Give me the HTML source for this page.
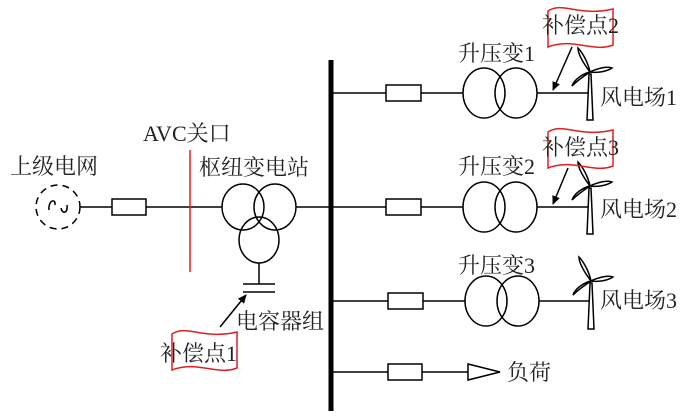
<!DOCTYPE html>
<html><head><meta charset="utf-8"><style>
html,body{margin:0;padding:0;background:#fff;}
text{font-family:"Liberation Serif","Noto Serif CJK SC","Noto Sans CJK SC",serif;font-size:22px;fill:#222;}
</style></head><body>
<svg width="700" height="415" viewBox="0 0 700 415" xmlns="http://www.w3.org/2000/svg">
<defs>
<marker id="ar" markerWidth="10" markerHeight="10" refX="8" refY="4" orient="auto" markerUnits="userSpaceOnUse"><path d="M0,0 L9,4 L0,8 Z" fill="#000"/></marker>
<g id="tur" stroke="#000" stroke-width="1.5" fill="#fff">
<path d="M-3,46 L-1,0 L1,0 L3,46 Z"/>
<path d="M0,-2 C-6,-10 -12,-20 -12,-26 C-8,-22 -2,-12 0,-2 Z"/>
<path d="M0,-2 C8,-6 18,-8 22,-6 C16,-2 6,-1 0,-2 Z"/>
<path d="M0,-2 C-6,2 -14,8 -18,12 C-16,6 -8,0 0,-2 Z"/>
</g>
<g id="wave"><path d="M0,4 C15,-6 30,10 65,2 L65,38 C45,46 25,30 0,40 Z" fill="none" stroke="#e02020" stroke-width="1.5"/></g>
</defs>
<g stroke="#000" stroke-width="1.5" fill="none">
<line x1="331" y1="60" x2="331" y2="411" stroke-width="5"/>
<circle cx="58" cy="207" r="22" stroke-dasharray="7,5"/>
<path d="M49,210 C48,200 56,198 55,205 M61,208 C62,214 68,214 67,205"/>
<line x1="80" y1="207" x2="112" y2="207"/>
<rect x="112" y="199" width="34" height="16"/>
<line x1="146" y1="207" x2="222" y2="207"/>
<ellipse cx="243" cy="207" rx="21" ry="23"/>
<ellipse cx="275" cy="207" rx="21" ry="23"/>
<ellipse cx="259" cy="240" rx="20" ry="23"/>
<line x1="296" y1="207" x2="331" y2="207"/>
<line x1="259" y1="263" x2="259" y2="284"/>
<line x1="243" y1="284" x2="275" y2="284"/>
<line x1="243" y1="292" x2="275" y2="292"/>
<line x1="220" y1="327" x2="246" y2="295" marker-end="url(#ar)"/>
<line x1="331" y1="93" x2="386" y2="93"/><rect x="386" y="85" width="35" height="16"/><line x1="421" y1="93" x2="463" y2="93"/>
<ellipse cx="484" cy="93" rx="21" ry="25"/><ellipse cx="516" cy="93" rx="21" ry="25"/><line x1="537" y1="93" x2="590" y2="93"/>
<line x1="331" y1="207" x2="386" y2="207"/><rect x="386" y="199" width="35" height="16"/><line x1="421" y1="207" x2="463" y2="207"/>
<ellipse cx="484" cy="207" rx="21" ry="25"/><ellipse cx="516" cy="207" rx="21" ry="25"/><line x1="537" y1="207" x2="590" y2="207"/>
<line x1="331" y1="301" x2="388" y2="301"/><rect x="388" y="293" width="35" height="16"/><line x1="423" y1="301" x2="465" y2="301"/>
<ellipse cx="486" cy="301" rx="21" ry="25"/><ellipse cx="518" cy="301" rx="21" ry="25"/><line x1="539" y1="301" x2="590" y2="301"/>
<line x1="331" y1="372" x2="388" y2="372"/><rect x="388" y="364" width="34" height="16"/><line x1="422" y1="372" x2="468" y2="372"/>
<path d="M468,364 L500,372 L468,380 Z"/>
<line x1="572" y1="47" x2="553" y2="90" marker-end="url(#ar)"/>
<line x1="568" y1="168" x2="553" y2="204" marker-end="url(#ar)"/>
</g>
<use href="#tur" x="590" y="74"/>
<use href="#tur" x="590" y="188"/>
<use href="#tur" x="591" y="283"/>
<line x1="190" y1="150" x2="190" y2="272" stroke="#e02020" stroke-width="1.5"/>
<use href="#wave" x="172" y="330"/>
<use href="#wave" x="548" y="7"/>
<use href="#wave" x="548" y="128"/>
<text x="10" y="174">上级电网</text>
<text x="143" y="141">AVC关口</text>
<text x="199" y="175">枢纽变电站</text>
<text x="236" y="329">电容器组</text>
<text x="160" y="361">补偿点1</text>
<text x="542" y="33">补偿点2</text>
<text x="542" y="155">补偿点3</text>
<text x="458" y="61">升压变1</text>
<text x="458" y="174">升压变2</text>
<text x="458" y="273">升压变3</text>
<text x="600" y="105">风电场1</text>
<text x="600" y="217">风电场2</text>
<text x="600" y="308">风电场3</text>
<text x="507" y="380">负荷</text>
</svg>
</body></html>
